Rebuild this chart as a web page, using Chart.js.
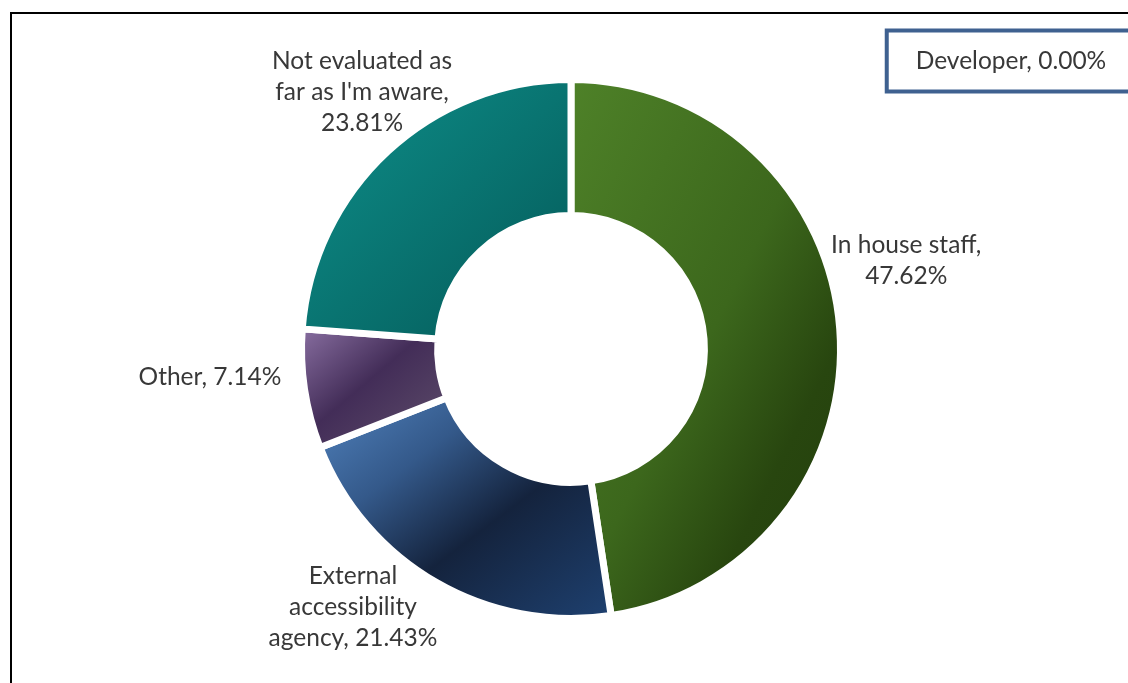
<!DOCTYPE html>
<html>
<head>
<meta charset="utf-8">
<title>Who evaluates accessibility</title>
<script src="https://cdn.jsdelivr.net/npm/chart.js@4.4.1/dist/chart.umd.min.js"></script>
<style>
  html, body { margin: 0; padding: 0; background: #fff; overflow: hidden; }
  #wrap { position: relative; width: 1128px; height: 683px; }
  #frame { position: absolute; left: 10px; top: 12px; width: 1200px; height: 800px; border: 2px solid #000; }
  #donut { position: absolute; left: 0; top: 0; }
</style>
</head>
<body>
<div id="wrap">
  <div id="frame"></div>
  <canvas id="donut" width="1128" height="683"></canvas>
</div>
<script>
// who evaluates accessibility, share of answers (%)
const categories = ['In house staff', 'External accessibility agency', 'Other', "Not evaluated as far as I'm aware", 'Developer'];
const shares = [47.62, 21.43, 7.14, 23.81, 0.00];

// gradient stops for each slice, light corner -> dark
const sliceStops = [
  [[0, '#4e8128'], [0.5, '#3c671c'], [0.75, '#28460f'], [1, '#233f0c']],
  [[0, '#5081bc'], [0.3, '#34598a'], [0.58, '#14233d'], [1, '#1e406f']],
  [[0, '#866c9e'], [0.45, '#432d58'], [1, '#5e4e6a']],
  [[0, '#0e8f8a'], [1, '#045958']],
  [[0, '#41648f'], [1, '#41648f']]
];

// label nudge from the middle of each slice's outer edge, and wrap width
const labelShift = [[70, -69], [-85, 28], [-98, -12], [-28, -62], [440, -22]];
const labelWrap = [175, 185, 220, 200, 300];
const boxedLabel = 4;

const GAP = 7;

function sliceAngles(i) {
  const total = shares.reduce((a, b) => a + b, 0);
  let before = 0;
  for (let k = 0; k < i; k++) before += shares[k];
  const a0 = -Math.PI / 2 + 2 * Math.PI * before / total;
  return [a0, a0 + 2 * Math.PI * shares[i] / total];
}

// linear gradient laid diagonally over the slice's bounding box
function sliceFill(ctx) {
  const i = ctx.dataIndex;
  if (i === undefined) return '#888';
  const chart = ctx.chart;
  const ctrl = chart.getDatasetMeta(0).controller;
  const area = chart.chartArea;
  if (!area || !ctrl || !ctrl.outerRadius) return sliceStops[i][0][1];
  const cx = (area.left + area.right) / 2 + (ctrl.offsetX || 0);
  const cy = (area.top + area.bottom) / 2 + (ctrl.offsetY || 0);
  const R = ctrl.outerRadius - GAP / 2, r = ctrl.innerRadius + GAP / 2;
  const [a0, a1] = sliceAngles(i);
  const angs = [a0, a1];
  for (let q = -4; q <= 8; q++) {
    const a = q * Math.PI / 2;
    if (a > a0 && a < a1) angs.push(a);
  }
  const xs = [], ys = [];
  angs.forEach(a => {
    xs.push(cx + R * Math.cos(a)); ys.push(cy + R * Math.sin(a));
  });
  [a0, a1].forEach(a => {
    xs.push(cx + r * Math.cos(a)); ys.push(cy + r * Math.sin(a));
  });
  const x0 = Math.min(...xs), y0 = Math.min(...ys);
  const w = Math.max(Math.max(...xs) - x0, 1), h = Math.max(Math.max(...ys) - y0, 1);
  const k = 2 * w * h / (w * w + h * h);
  const g = chart.ctx.createLinearGradient(x0, y0, x0 + k * h, y0 + k * w);
  sliceStops[i].forEach(([t, c]) => g.addColorStop(t, c));
  return g;
}

function wrapText(c, text, maxW) {
  const words = text.split(' ');
  const lines = [];
  let line = '';
  words.forEach(wd => {
    const test = line ? line + ' ' + wd : wd;
    if (line && c.measureText(test).width > maxW) {
      lines.push(line);
      line = wd;
    } else {
      line = test;
    }
  });
  if (line) lines.push(line);
  return lines;
}

const sliceLabels = {
  id: 'sliceLabels',
  afterDatasetsDraw(chart) {
    const c = chart.ctx;
    const meta = chart.getDatasetMeta(0);
    const lineH = 31;
    c.save();
    c.font = '24.5px Lato, "Open Sans", sans-serif';
    c.textAlign = 'center';
    c.textBaseline = 'middle';
    meta.data.forEach((arc, i) => {
      const mid = (arc.startAngle + arc.endAngle) / 2;
      const rad = arc.outerRadius - GAP / 2;
      const x = arc.x + rad * Math.cos(mid) + labelShift[i][0];
      const y = arc.y + rad * Math.sin(mid) + labelShift[i][1];
      const text = categories[i] + ', ' + shares[i].toFixed(2) + '%';
      const lines = wrapText(c, text, labelWrap[i]);
      const top = y - (lines.length - 1) * lineH / 2;
      if (i === boxedLabel) {
        const tw = Math.max(...lines.map(l => c.measureText(l).width));
        const bw = tw + 58, bh = lines.length * lineH + 30;
        c.fillStyle = '#fff';
        c.fillRect(x - bw / 2, y - bh / 2, bw, bh);
        c.strokeStyle = '#3f6190';
        c.lineWidth = 4;
        c.strokeRect(x - bw / 2, y - bh / 2, bw, bh);
      }
      c.fillStyle = '#383838';
      lines.forEach((l, n) => c.fillText(l, x, top + n * lineH));
    });
    c.restore();
  }
};

new Chart(document.getElementById('donut'), {
  type: 'doughnut',
  data: {
    labels: categories,
    datasets: [{
      data: shares,
      backgroundColor: sliceFill,
      borderColor: '#ffffff',
      borderWidth: GAP,
      borderAlign: 'center',
      hoverOffset: 0,
      hoverBorderWidth: GAP
    }]
  },
  options: {
    responsive: false,
    animation: false,
    cutout: '49.5%',
    layout: { padding: { left: 298, right: 284, top: 76, bottom: 61 } },
    plugins: {
      legend: { display: false },
      tooltip: { enabled: false }
    }
  },
  plugins: [sliceLabels]
});
</script>
</body>
</html>
